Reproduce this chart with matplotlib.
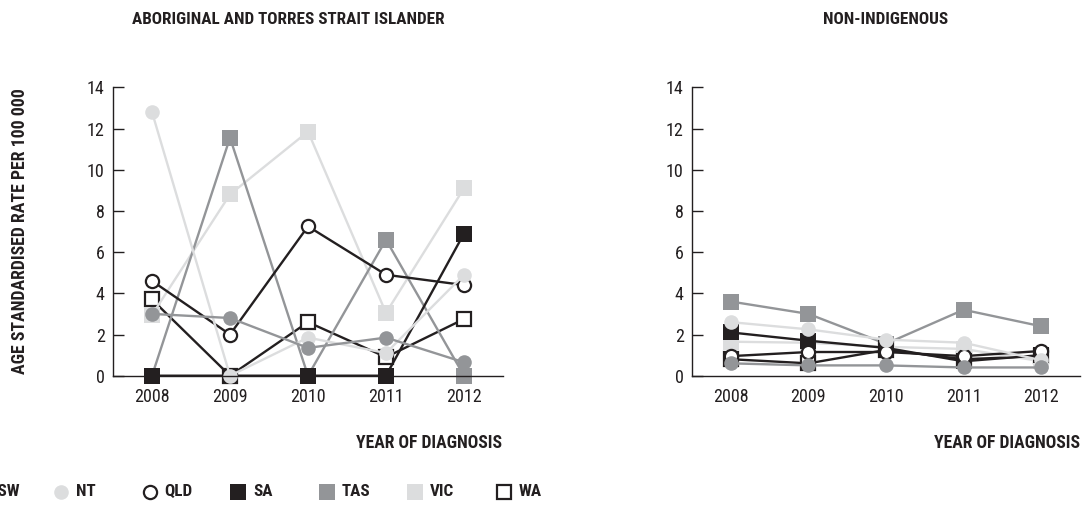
import matplotlib
matplotlib.use('Agg')
import matplotlib.pyplot as plt
from matplotlib import font_manager as fm
from matplotlib.lines import Line2D

# dados: taxa padronizada por idade, por 100 000
years = [2008, 2009, 2010, 2011, 2012]
states = ['NSW', 'NT', 'QLD', 'SA', 'TAS', 'VIC', 'WA']

indig_nsw = [3.0, 2.8, 1.35, 1.85, 0.65]
indig_nt = [12.8, 0.0, 1.85, 1.1, 4.9]
indig_qld = [4.6, 2.0, 7.25, 4.9, 4.4]
indig_sa = [0.0, 0.0, 0.0, 0.0, 6.9]
indig_tas = [0.0, 11.55, 0.0, 6.6, 0.0]
indig_vic = [2.95, 8.8, 11.85, 3.05, 9.1]
indig_wa = [3.7, 0.0, 2.6, 0.9, 2.75]

nonind_nsw = [0.6, 0.5, 0.5, 0.4, 0.4]
nonind_nt = [2.6, 2.25, 1.75, 1.6, 0.75]
nonind_qld = [0.95, 1.15, 1.15, 0.95, 1.2]
nonind_sa = [2.1, 1.7, 1.35, 0.7, 1.0]
nonind_tas = [3.6, 3.0, 1.55, 3.2, 2.4]
nonind_vic = [1.65, 1.6, 1.4, 1.3, 0.7]
nonind_wa = [0.8, 0.6, 1.25, 0.8, 0.95]

indig = [indig_nsw, indig_nt, indig_qld, indig_sa, indig_tas, indig_vic, indig_wa]
nonind = [nonind_nsw, nonind_nt, nonind_qld, nonind_sa, nonind_tas, nonind_vic, nonind_wa]

# cores e marcadores
BLACK = '#231f20'
MID = '#939598'
LIGHT = '#dcddde'
style = {
    'NSW': dict(marker='o', color=MID, mfc=MID, mec=MID, ms=10.5),
    'NT':  dict(marker='o', color=LIGHT, mfc=LIGHT, mec=LIGHT, ms=10.5),
    'QLD': dict(marker='o', color=BLACK, mfc='white', mec=BLACK, ms=9.5, mew=1.6),
    'SA':  dict(marker='s', color=BLACK, mfc=BLACK, mec=BLACK, ms=11.5),
    'TAS': dict(marker='s', color=MID, mfc=MID, mec=MID, ms=11.5),
    'VIC': dict(marker='s', color=LIGHT, mfc=LIGHT, mec=LIGHT, ms=11.5),
    'WA':  dict(marker='s', color=BLACK, mfc='white', mec=BLACK, ms=9.5, mew=1.6),
}

# fonte condensada
def pick_font(names):
    for n in names:
        try:
            fm.findfont(fm.FontProperties(family=n), fallback_to_default=False)
            return n
        except Exception:
            pass
    return 'DejaVu Sans'

FONT = pick_font(['Liberation Sans Narrow', 'Roboto Condensed', 'DejaVu Sans'])
plt.rcParams['font.family'] = [FONT, 'DejaVu Sans']
plt.rcParams['font.stretch'] = 'condensed'

fig = plt.figure(figsize=(10.84, 5.07), dpi=100)
W, H = 1084, 507

def fx(px):
    return px / W

def fy(py):
    return 1 - py / H

ax1 = fig.add_axes([fx(113), fy(375.7), fx(503 - 113), (375.7 - 87.3) / H])
ax2 = fig.add_axes([fx(692), fy(375.7), fx(1080 - 692), (375.7 - 87.3) / H])

for ax, data in [(ax1, indig), (ax2, nonind)]:
    # ordem inversa: NSW fica por cima
    for name, vals in reversed(list(zip(states, data))):
        s = style[name]
        ax.plot(years, vals, marker=s['marker'], color=s['color'],
                markerfacecolor=s['mfc'], markeredgecolor=s['mec'],
                markersize=s['ms'], markeredgewidth=s.get('mew', 0),
                linewidth=1.7, clip_on=False)
    ax.set_xlim(2007.5, 2012.5)
    ax.set_ylim(0, 14)
    ax.set_xticks(years)
    ax.set_yticks(range(0, 15, 2))
    ax.spines['top'].set_visible(False)
    ax.spines['right'].set_visible(False)
    ax.spines['left'].set_color(BLACK)
    ax.spines['bottom'].set_color(BLACK)
    ax.spines['left'].set_linewidth(1.0)
    ax.spines['bottom'].set_linewidth(1.0)
    ax.tick_params(axis='y', direction='in', length=8, width=1.0, color=BLACK,
                   labelsize=13, labelcolor=BLACK, pad=6)
    ax.tick_params(axis='x', length=0, labelsize=13, labelcolor=BLACK, pad=9)
    ax.patch.set_alpha(0)

# títulos
tkw = dict(fontsize=12.3, fontweight='bold', color=BLACK, ha='center', va='center')
fig.text(fx(288), fy(19), 'ABORIGINAL AND TORRES STRAIT ISLANDER', **tkw)
fig.text(fx(886), fy(19), 'NON-INDIGENOUS', **tkw)
fig.text(fx(20), fy(231), 'AGE STANDARDISED RATE PER 100 000', rotation=90,
         fontsize=12.8, fontweight='bold', color=BLACK, ha='center', va='center')
fig.text(fx(502), fy(443), 'YEAR OF DIAGNOSIS', fontsize=12.7, fontweight='bold',
         color=BLACK, ha='right', va='center')
fig.text(fx(1080), fy(443), 'YEAR OF DIAGNOSIS', fontsize=12.7, fontweight='bold',
         color=BLACK, ha='right', va='center')

# legenda (começa fora da figura, à esquerda)
pitch = 88.5
x0 = 61 - pitch
for i, name in enumerate(states):
    s = style[name]
    x = x0 + i * pitch
    fig.add_artist(Line2D([fx(x)], [fy(492)], marker=s['marker'], linestyle='none',
                          markerfacecolor=s['mfc'], markeredgecolor=s['mec'],
                          markersize=s['ms'], markeredgewidth=s.get('mew', 0)))
    fig.text(fx(x + 15), fy(492), name, fontsize=12.3, fontweight='bold',
             color=BLACK, ha='left', va='center')

fig.savefig('out.png', dpi=100)
